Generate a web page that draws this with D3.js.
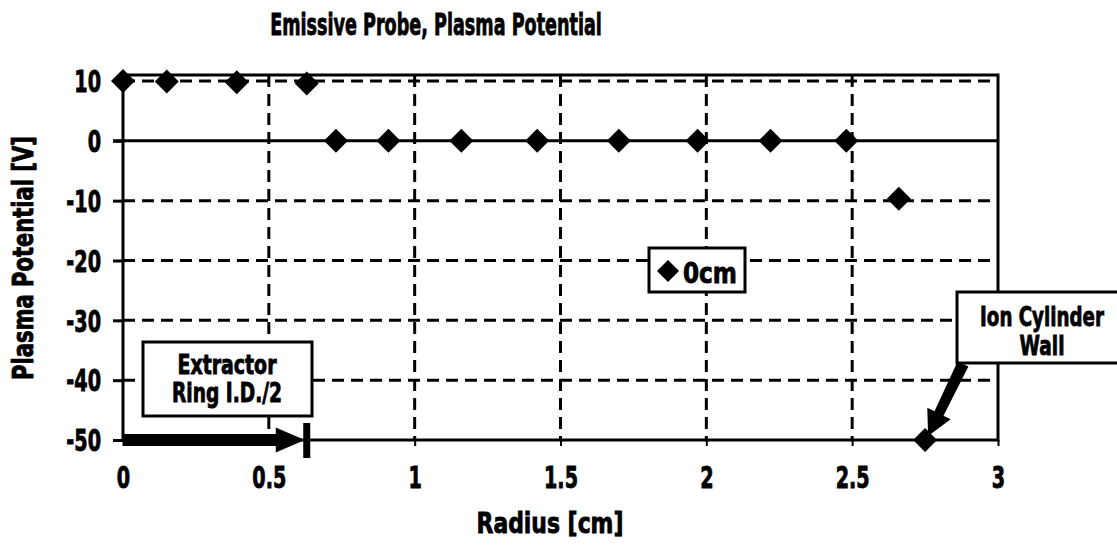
<!DOCTYPE html>
<html><head><meta charset="utf-8">
<script src="https://cdn.jsdelivr.net/npm/d3@7"></script>
<style>
html,body{margin:0;padding:0;background:#fff;}
svg text{font-family:"DejaVu Sans","Liberation Sans",sans-serif;font-weight:bold;fill:#000;stroke:#000;stroke-width:0.9px;}
</style></head>
<body><svg id="c" width="1117" height="546"></svg>
<script>
const radius = [0, 0.15, 0.39, 0.63, 0.73, 0.91, 1.16, 1.42, 1.70, 1.97, 2.22, 2.48, 2.66, 2.75];
const potential = [10, 9.9, 9.8, 9.6, 0, 0, 0, 0, 0, 0, 0, 0, -9.7, -50];
const xTicks = [0, 0.5, 1, 1.5, 2, 2.5, 3];
const xTickLabels = ["0", "0.5", "1", "1.5", "2", "2.5", "3"];
const yTicks = [10, 0, -10, -20, -30, -40, -50];
const yTickLabels = ["10", "0", "-10", "-20", "-30", "-40", "-50"];
const seriesName = "0cm";
const title = "Emissive Probe, Plasma Potential";
const xTitle = "Radius [cm]";
const yTitle = "Plasma Potential [V]";
const extractorLabel = ["Extractor", "Ring I.D./2"];
const extractorRadius = 0.63;
const wallLabel = ["Ion Cylinder", "Wall"];

const svg = d3.select("#c");
const L = 123, R = 998, T = 75, B = 440;
const x = d3.scaleLinear().domain([0, 3]).range([L, R]);
const y = d3.scaleLinear().domain([-50, 11]).range([B, T]);

// condensed text centred at cx with baseline by, squeezed to width w
function ctext(parent, str, cx, by, size, w, rot) {
  const t = parent.append("text").attr("font-size", size).attr("text-anchor", "middle").text(str);
  const nat = t.node().getComputedTextLength();
  const f = w / nat;
  if (rot) t.attr("transform", `translate(${cx},${by}) rotate(-90) scale(${f},1)`);
  else t.attr("transform", `translate(${cx},${by}) scale(${f},1)`);
  return t;
}
function condense(sel, f) {
  sel.each(function () {
    const t = d3.select(this);
    const tx = +t.attr("x") || 0, ty = +t.attr("y") || 0;
    t.attr("x", 0).attr("y", 0).attr("transform", `translate(${tx},${ty}) scale(${f},1)`);
  });
}

// grid
const g = svg.append("g");
g.selectAll(".hg").data(yTicks.filter(v => v !== 0 && v !== -50)).enter().append("line")
  .attr("x1", L).attr("x2", R).attr("y1", d => y(d)).attr("y2", d => y(d))
  .attr("stroke", "#000").attr("stroke-width", 3).attr("stroke-dasharray", "12,7");
g.selectAll(".vg").data(xTicks.filter(v => v !== 0 && v !== 3)).enter().append("line")
  .attr("x1", d => x(d)).attr("x2", d => x(d)).attr("y1", T).attr("y2", B)
  .attr("stroke", "#000").attr("stroke-width", 3).attr("stroke-dasharray", "12,7");

// zero line
g.append("line").attr("x1", L - 10).attr("x2", R).attr("y1", y(0)).attr("y2", y(0))
  .attr("stroke", "#000").attr("stroke-width", 3);

// frame
g.append("rect").attr("x", L).attr("y", T).attr("width", R - L).attr("height", B - T)
  .attr("fill", "none").attr("stroke", "#000").attr("stroke-width", 3);

// axes
const yAxis = d3.axisLeft(y).tickValues(yTicks).tickSize(10).tickFormat((d, i) => yTickLabels[i]).tickPadding(12);
const ya = svg.append("g").attr("transform", `translate(${L},0)`).call(yAxis);
ya.attr("font-family", null).attr("font-size", null);
ya.select(".domain").remove();
ya.selectAll("line").attr("stroke", "#000").attr("stroke-width", 3);
ya.selectAll("text").attr("font-size", 30).attr("dy", "0.36em");
condense(ya.selectAll("text"), 0.64);

const xAxis = d3.axisBottom(x).tickValues(xTicks).tickSize(6).tickFormat((d, i) => xTickLabels[i]).tickPadding(21);
const xa = svg.append("g").attr("transform", `translate(0,${B})`).call(xAxis);
xa.attr("font-family", null).attr("font-size", null);
xa.select(".domain").remove();
xa.selectAll("line").attr("stroke", "#000").attr("stroke-width", 2);
xa.selectAll("text").attr("font-size", 30);
condense(xa.selectAll("text"), 0.64);

// titles
ctext(svg, title, 436, 35, 30, 332);
ctext(svg, xTitle, 550, 533, 29, 147);
ctext(svg, yTitle, 33, 258, 28, 244, true);

// points
const diamond = "M0,-12L12,0L0,12L-12,0Z";
svg.selectAll(".pt").data(radius.map((r, i) => [r, potential[i]])).enter().append("path")
  .attr("d", diamond).attr("transform", d => `translate(${x(d[0])},${y(d[1])})`).attr("fill", "#000");

// legend
const lg = svg.append("g");
lg.append("rect").attr("x", 649).attr("y", 248).attr("width", 96).attr("height", 44)
  .attr("fill", "#fff").attr("stroke", "#000").attr("stroke-width", 3);
lg.append("path").attr("d", "M0,-11L11,0L0,11L-11,0Z").attr("transform", "translate(668,271)").attr("fill", "#000");
ctext(lg, seriesName, 710, 283, 29, 54);

// extractor annotation
const ex = svg.append("g");
ex.append("rect").attr("x", 143).attr("y", 342).attr("width", 169).attr("height", 74)
  .attr("fill", "#fff").attr("stroke", "#000").attr("stroke-width", 3);
ctext(ex, extractorLabel[0], 227, 374, 26, 99);
ctext(ex, extractorLabel[1], 227, 402, 26, 110);
const ax0 = x(0), ax1 = x(extractorRadius) - 2, ay = y(-50);
ex.append("rect").attr("x", ax0).attr("y", ay - 6).attr("width", ax1 - 27 - ax0).attr("height", 12).attr("fill", "#000");
ex.append("path").attr("d", `M${ax1 - 29},${ay - 12.5}L${ax1},${ay}L${ax1 - 29},${ay + 12.5}Z`).attr("fill", "#000");
ex.append("rect").attr("x", x(extractorRadius) - 3.5).attr("y", ay - 17).attr("width", 7).attr("height", 35).attr("fill", "#000");

// ion cylinder wall annotation
const wl = svg.append("g");
wl.append("rect").attr("x", 957).attr("y", 292).attr("width", 175).attr("height", 71)
  .attr("fill", "#fff").attr("stroke", "#000").attr("stroke-width", 3);
ctext(wl, wallLabel[0], 1042, 326, 27, 124);
ctext(wl, wallLabel[1], 1042, 355, 27, 45);
const tx = x(2.75) + 3, ty = y(-50) - 4, sx = 963, sy = 364;
const ang = Math.atan2(ty - sy, tx - sx);
const len = Math.hypot(tx - sx, ty - sy);
const aw = wl.append("g").attr("transform", `translate(${sx},${sy}) rotate(${ang * 180 / Math.PI})`);
aw.append("path").attr("d", `M0,-6L${len - 25},-5L${len - 25},-13L${len},0L${len - 25},13L${len - 25},5L0,6Z`).attr("fill", "#000");
</script></body></html>
